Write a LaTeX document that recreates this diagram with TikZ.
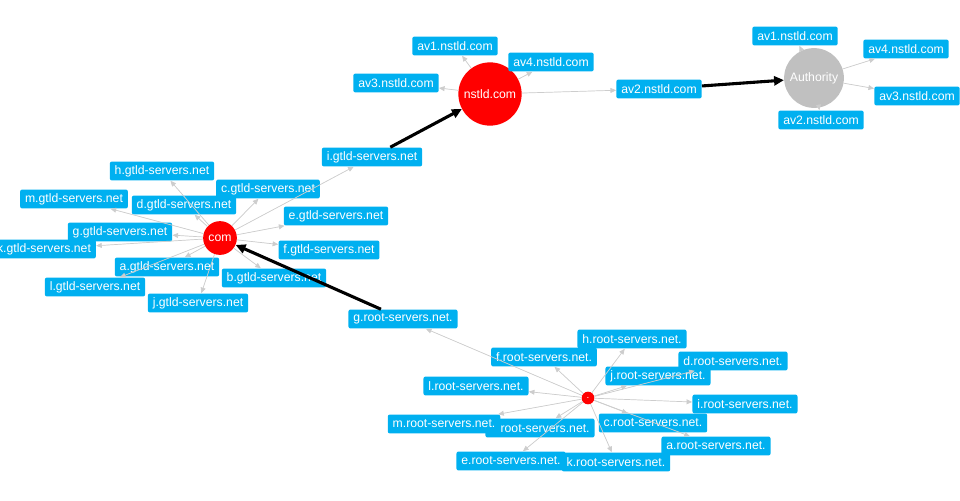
\documentclass[tikz,border=0pt]{standalone}
\usepackage{fontspec}
\setmainfont{Liberation Sans}
\usetikzlibrary{arrows.meta}
\definecolor{srvblue}{RGB}{0,176,240}
\definecolor{authgray}{RGB}{192,192,192}
\definecolor{linkgray}{RGB}{205,205,205}

\begin{document}
\begin{tikzpicture}[
    x=0.025cm, y=-0.025cm,
    srv/.style={rectangle, rounded corners=1.5pt, fill=srvblue, text=white, inner xsep=3.5pt, inner ysep=0pt, minimum height=13.5pt, font=\fontsize{8.7}{10}\selectfont},
    hub/.style={circle, fill=red, text=white, inner sep=0pt, font=\fontsize{8.7}{10}\selectfont},
    link/.style={draw=linkgray, line width=0.5pt, -{Triangle[length=4pt, width=3.5pt]}, fill=linkgray},
    hop/.style={draw=black, line width=2.2pt, -{Triangle[length=7pt, width=6.5pt]}}
  ]
  \useasboundingbox (0,0) rectangle (960,500);

  % nstld.com and its servers
  \node[hub, minimum size=45pt] (nstld) at (490,94) {nstld.com};
  \node[srv] (av1) at (455,46) {av1.nstld.com};
  \node[srv] (av4) at (551,62) {av4.nstld.com};
  \node[srv] (av3) at (396,83) {av3.nstld.com};
  \node[srv] (av2) at (659,89) {av2.nstld.com};

  % authority
  \node[hub, fill=authgray, minimum size=42.5pt] (auth) at (814,78) {Authority};
  \node[srv] (auav1) at (795,36) {av1.nstld.com};
  \node[srv] (auav4) at (906,49) {av4.nstld.com};
  \node[srv] (auav3) at (917,96) {av3.nstld.com};
  \node[srv] (auav2) at (821,120) {av2.nstld.com};

  % com and gtld servers
  \node[hub, minimum size=24pt] (com) at (220,238) {com};
  \node[srv] (gh) at (162,171) {h.gtld-servers.net};
  \node[srv] (gi) at (372,157) {i.gtld-servers.net};
  \node[srv] (gc) at (268,189) {c.gtld-servers.net};
  \node[srv] (gm) at (74,199) {m.gtld-servers.net};
  \node[srv] (gd) at (184,205) {d.gtld-servers.net};
  \node[srv] (ge) at (336,216) {e.gtld-servers.net};
  \node[srv] (gk) at (44,249) {k.gtld-servers.net};
  \node[srv] (gg) at (120,232) {g.gtld-servers.net};
  \node[srv] (gf) at (329,250) {f.gtld-servers.net};
  \node[srv] (ga) at (167,267) {a.gtld-servers.net};
  \node[srv] (gb) at (274,278) {b.gtld-servers.net};
  \node[srv] (gl) at (95,287) {l.gtld-servers.net};
  \node[srv] (gj) at (198,303) {j.gtld-servers.net};

  % root and root servers
  \node[hub, minimum size=9pt, font=\fontsize{7}{8}\selectfont] (root) at (588,398) {.};
  \node[srv] (rg) at (403,319) {g.root-servers.net.};
  \node[srv] (rh) at (632,339) {h.root-servers.net.};
  \node[srv] (rf) at (544,357) {f.root-servers.net.};
  \node[srv] (rd) at (733,361) {d.root-servers.net.};
  \node[srv] (rj) at (658,376) {j.root-servers.net.};
  \node[srv] (rl) at (476,386) {l.root-servers.net.};
  \node[srv] (ri) at (745,404) {i.root-servers.net.};
  \node[srv] (rc) at (653,423) {c.root-servers.net.};
  \node[srv] (rb) at (540,428) {b.root-servers.net.};
  \node[srv] (rm) at (444,424) {m.root-servers.net.};
  \node[srv] (ra) at (716,446) {a.root-servers.net.};
  \node[srv] (re) at (511,461) {e.root-servers.net.};
  \node[srv] (rk) at (616,462) {k.root-servers.net.};

  \draw[link] (nstld) -- (av1);
  \draw[link] (nstld) -- (av4);
  \draw[link] (nstld) -- (av3);
  \draw[link] (nstld) -- (av2);
  \draw[link] (auth) -- (auav1);
  \draw[link] (auth) -- (auav4);
  \draw[link] (auth) -- (auav3);
  \draw[link] (auth) -- (auav2);

  \draw[link] (com) -- (gh);
  \draw[link] (com) -- (gi);
  \draw[link] (com) -- (gc);
  \draw[link] (com) -- (gm);
  \draw[link] (com) -- (gd);
  \draw[link] (com) -- (ge);
  \draw[link] (com) -- (gk);
  \draw[link] (com) -- (gg);
  \draw[link] (com) -- (gf);
  \draw[link] (com) -- (ga);
  \draw[link] (com) -- (gb);
  \draw[link] (com) -- (gl);
  \draw[link] (com) -- (gj);

  \draw[link] (root) -- (rg);
  \draw[link] (root) -- (rh);
  \draw[link] (root) -- (rf);
  \draw[link] (root) -- (rd);
  \draw[link] (root) -- (rj);
  \draw[link] (root) -- (rl);
  \draw[link] (root) -- (ri);
  \draw[link] (root) -- (rc);
  \draw[link] (root) -- (rb);
  \draw[link] (root) -- (rm);
  \draw[link] (root) -- (ra);
  \draw[link] (root) -- (re);
  \draw[link] (root) -- (rk);

  \draw[hop] (rg) -- (com);
  \draw[hop] (gi) -- (nstld);
  \draw[hop] (av2) -- (auth);

\end{tikzpicture}
\end{document}
